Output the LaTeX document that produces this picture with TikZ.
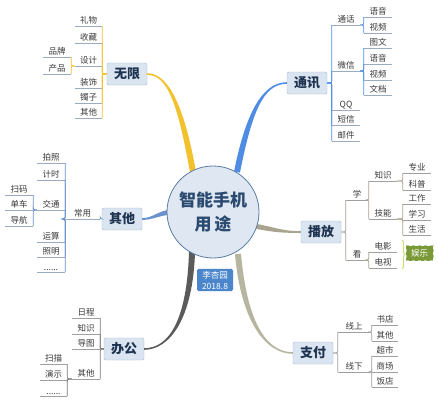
\documentclass[tikz,border=0pt]{standalone}
\usepackage{fontspec}
\setmainfont{Noto Sans CJK SC}
\usetikzlibrary{calc,decorations.pathreplacing}
\definecolor{cfill}{HTML}{DFE8F2}
\definecolor{cdraw}{HTML}{5A7CA5}
\definecolor{ctext}{HTML}{2B4A70}
\definecolor{mfill}{HTML}{DBE5F1}
\definecolor{mdraw}{HTML}{A3B9D3}
\definecolor{mtext}{HTML}{1E3350}
\definecolor{leafc}{HTML}{3A3A3A}
\definecolor{ulb}{HTML}{9AABC2}
\definecolor{ulg}{HTML}{A0A0A0}
\definecolor{cyel}{HTML}{F2C12E}
\definecolor{cblu}{HTML}{4E8DE3}
\definecolor{cqt}{HTML}{6A92CC}
\definecolor{cbf}{HTML}{A8A490}
\definecolor{cbg}{HTML}{5A5A5A}
\definecolor{czf}{HTML}{B5B5A0}
\definecolor{cauth}{HTML}{4B86CC}
\definecolor{cyl}{HTML}{7A9A38}
\definecolor{cbrace}{HTML}{CCD870}
\tikzset{
  leaf/.style={anchor=south, inner xsep=0pt, inner ysep=1.2pt, font=\fontsize{8.5}{9}\selectfont, text=leafc},
  mainbox/.style={draw=mdraw, fill=mfill, rounded corners=1.5pt, minimum width=40pt, minimum height=22pt, inner sep=1pt, font=\bfseries\fontsize{13}{13}\selectfont, text=mtext},
  brk/.style={line width=0.7pt, rounded corners=2pt},
}
\newcommand\lf[6]{%
  \node[leaf, minimum width={(#3-#2)*1pt}] (#1) at ({(#2+#3)/2},#4) {#5};
  \draw[#6, line width=0.6pt] (#1.south west) -- (#1.south east);
}
\newcommand\taper[3]{%
  \coordinate (SL) at ($(S)!#2!90:(P)$);
  \coordinate (SR) at ($(S)!#2!-90:(P)$);
  \coordinate (EL) at ($(E)!#3!-90:(Q)$);
  \coordinate (ER) at ($(E)!#3!90:(Q)$);
  \fill[#1] (SL) .. controls ($(P)+(SL)-(S)$) and ($(Q)+(EL)-(E)$) .. (EL) -- (ER) .. controls ($(Q)+(ER)-(E)$) and ($(P)+(SR)-(S)$) .. (SR) -- cycle;
}
\begin{document}
\begin{tikzpicture}[x=1pt,y=-1pt]
\useasboundingbox (0,0) rectangle (438,400);
\fill[white] (0,0) rectangle (438,400);
% main nodes
\node[mainbox] (wx) at (127,74) {无限};
\node[mainbox] (tx) at (307,83) {通讯};
\node[mainbox] (qt) at (122,219) {其他};
\node[mainbox] (bf) at (321,232) {播放};
\node[mainbox] (bg) at (124,349) {办公};
\node[mainbox] (zf) at (313,353) {支付};
% branches
\coordinate (S) at (193,172); \coordinate (P) at (181,105); \coordinate (Q) at (168,74); \coordinate (E) at (wx.east);
\taper{cyel}{3pt}{0.8pt}
\coordinate (S) at (237,172); \coordinate (P) at (249,112); \coordinate (Q) at (263,83); \coordinate (E) at (tx.west);
\taper{cblu}{3pt}{0.8pt}
\coordinate (S) at (172,212); \coordinate (P) at (158,213); \coordinate (Q) at (153,219); \coordinate (E) at (qt.east);
\taper{cqt}{2.5pt}{0.9pt}
\coordinate (S) at (254,226); \coordinate (P) at (276,230); \coordinate (Q) at (282,232); \coordinate (E) at (bf.west);
\taper{cbf}{2.5pt}{0.9pt}
\coordinate (S) at (192,252); \coordinate (P) at (190,318); \coordinate (Q) at (170,349); \coordinate (E) at (bg.east);
\taper{cbg}{3pt}{0.8pt}
\coordinate (S) at (238,254); \coordinate (P) at (244,322); \coordinate (Q) at (266,353); \coordinate (E) at (zf.west);
\taper{czf}{3pt}{0.8pt}
% centre
\node[circle, draw=cdraw, fill=cfill, line width=0.8pt, minimum size=92pt, inner sep=0pt, align=center, font=\bfseries\fontsize{17}{24}\selectfont, text=ctext] (ct) at (213,212) {智能手机\\用\,途};
\node[fill=cauth, rounded corners=1.5pt, text=white, align=center, inner sep=2pt, minimum width=36pt, font=\fontsize{8.5}{11}\selectfont] (au) at (215,280) {李杏园\\2018.8};
% 无限 leaves
\lf{w1}{75}{102}{26}{礼物}{ulb}
\lf{w2}{75}{102}{43}{收藏}{ulb}
\lf{w3}{75}{102}{66}{设计}{ulb}
\lf{w4}{75}{102}{88}{装饰}{ulb}
\lf{w5}{75}{102}{103}{镯子}{ulb}
\lf{w6}{75}{102}{118}{其他}{ulb}
\lf{w31}{43}{71}{57}{品牌}{ulb}
\lf{w32}{43}{71}{74}{产品}{ulb}
\foreach \c in {w1,w2,w3,w4,w5,w6} \draw[brk, cyel] (wx.west) -| (\c.south east);
\foreach \c in {w31,w32} \draw[brk, cyel] (w3.south west) -| (\c.south east);
% 通讯 leaves
\lf{t1}{332}{360}{25}{通话}{ulb}
\lf{t2}{332}{360}{71}{微信}{ulb}
\lf{t3}{332}{360}{110}{QQ}{ulb}
\lf{t4}{332}{360}{125}{短信}{ulb}
\lf{t5}{332}{360}{141}{邮件}{ulb}
\lf{t11}{364}{392}{17}{语音}{ulb}
\lf{t12}{364}{392}{33}{视频}{ulb}
\lf{t21}{364}{392}{48}{图文}{ulb}
\lf{t22}{364}{392}{64}{语音}{ulb}
\lf{t23}{364}{392}{80}{视频}{ulb}
\lf{t24}{364}{392}{95}{文档}{ulb}
\foreach \c in {t1,t2,t3,t4,t5} \draw[brk, cblu] (tx.east) -| (\c.south west);
\foreach \c in {t11,t12} \draw[brk, cblu] (t1.south east) -| (\c.south west);
\foreach \c in {t21,t22,t23,t24} \draw[brk, cblu] (t2.south east) -| (\c.south west);
% 其他 leaves
\lf{qc}{65}{100}{219}{常用}{ulb}
\lf{q1}{37}{65}{163}{拍照}{ulb}
\lf{q2}{37}{65}{180}{计时}{ulb}
\lf{q3}{37}{65}{210}{交通}{ulb}
\lf{q4}{37}{65}{242}{运算}{ulb}
\lf{q5}{37}{65}{257}{照明}{ulb}
\lf{q6}{37}{65}{272}{......}{ulb}
\lf{q31}{5}{33}{195}{扫码}{ulb}
\lf{q32}{5}{33}{210}{单车}{ulb}
\lf{q33}{5}{33}{226}{导航}{ulb}
\draw[brk, cqt] (qt.west) -| (qc.south east);
\foreach \c in {q1,q2,q3,q4,q5,q6} \draw[brk, cqt] (qc.south west) -| (\c.south east);
\foreach \c in {q31,q32,q33} \draw[brk, cqt] (q3.south west) -| (\c.south east);
% 播放 leaves
\lf{b1}{346}{368}{200}{学}{ulg}
\lf{b2}{346}{368}{260}{看}{ulg}
\lf{b11}{369}{397}{181}{知识}{ulg}
\lf{b12}{369}{397}{219}{技能}{ulg}
\lf{b111}{403}{431}{173}{专业}{ulg}
\lf{b112}{403}{431}{190}{科普}{ulg}
\lf{b121}{403}{431}{204}{工作}{ulg}
\lf{b122}{403}{431}{220}{学习}{ulg}
\lf{b123}{403}{431}{235}{生活}{ulg}
\lf{b21}{369}{397}{252}{电影}{ulg}
\lf{b22}{369}{397}{268}{电视}{ulg}
\foreach \c in {b1,b2} \draw[brk, cbf] (bf.east) -| (\c.south west);
\foreach \c in {b11,b12} \draw[brk, cbf] (b1.south east) -| (\c.south west);
\foreach \c in {b111,b112} \draw[brk, cbf] (b11.south east) -| (\c.south west);
\foreach \c in {b121,b122,b123} \draw[brk, cbf] (b12.south east) -| (\c.south west);
\foreach \c in {b21,b22} \draw[brk, cbf] (b2.south east) -| (\c.south west);
\coordinate (brt) at (402,240);
\coordinate (brb) at (402,269);
\draw[cbrace, line width=0.9pt, decorate, decoration={brace, amplitude=3pt}] (brt) -- (brb);
\node[fill=cyl, draw=cyl!50!white, dashed, text=white, font=\itshape\fontsize{8.5}{9}\selectfont, minimum width=27pt, minimum height=15pt, inner sep=1pt] (yl) at (419.5,253) {娱乐};
% 办公 leaves
\lf{o1}{72}{100}{318}{日程}{ulg}
\lf{o2}{72}{100}{334}{知识}{ulg}
\lf{o3}{72}{100}{349}{导图}{ulg}
\lf{o4}{72}{100}{379}{其他}{ulg}
\lf{o41}{40}{67}{364}{扫描}{ulg}
\lf{o42}{40}{67}{380}{演示}{ulg}
\lf{o43}{40}{67}{396}{......}{ulg}
\foreach \c in {o1,o2,o3,o4} \draw[brk, cbg!80!white] (bg.west) -| (\c.south east);
\foreach \c in {o41,o42,o43} \draw[brk, cbg!80!white] (o4.south west) -| (\c.south east);
% 支付 leaves
\lf{z1}{338}{370}{332}{线上}{ulg}
\lf{z2}{338}{370}{372}{线下}{ulg}
\lf{z11}{372}{398}{325}{书店}{ulg}
\lf{z12}{372}{398}{341}{其他}{ulg}
\lf{z21}{372}{398}{356}{超市}{ulg}
\lf{z22}{372}{398}{372}{商场}{ulg}
\lf{z23}{372}{398}{387}{饭店}{ulg}
\foreach \c in {z1,z2} \draw[brk, ulg] (zf.east) -| (\c.south west);
\foreach \c in {z11,z12} \draw[brk, ulg] (z1.south east) -| (\c.south west);
\foreach \c in {z21,z22,z23} \draw[brk, ulg] (z2.south east) -| (\c.south west);
\end{tikzpicture}
\end{document}
